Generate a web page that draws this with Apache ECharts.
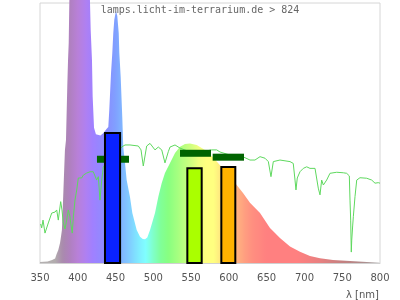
<!DOCTYPE html>
<html><head><meta charset="utf-8">
<script src="https://cdn.jsdelivr.net/npm/echarts@6/dist/echarts.min.js"></script>
<style>html,body{margin:0;padding:0;background:#fff}#c{width:400px;height:300px}</style>
</head><body><div id="c"></div>
<script>
// ---- data ----
const titleText = 'lamps.licht-im-terrarium.de > 824';
const axisName = 'λ [nm]';
const xMin = 350, xMax = 800, xStep = 50;

// lamp spectrum (relative units, 100 = top of plot)
const specNm  = [350,360,366,370,372,374.2,376.5,377.7,379,381,383,384.4,386.1,387.1,388,388.8,392,398,403,408,413,416.2,417.1,418.8,419.7,421.5,424,430,434,438,440.4,441.7,444,445.7,447,448.3,450.5,452.3,454.2,455,456.8,458.9,460.2,462.5,464.7,469.1,472.2,478,482.4,486,489,492,495.6,502.2,506.6,511.1,515.4,522.1,528.7,535.3,541.9,548.5,557.4,568.4,577.2,588,600,610.3,618.7,627.9,641.2,654.4,667.6,680.9,694.1,707.3,720.6,737.8,760.3,782.4,800];
const specVal = [0.4,0.6,1.2,1.7,3.5,5,7.7,10,12.7,28,43.5,47.3,67.8,78,84.6,100,150,200,220,200,150,100,89.6,78,64,52,49.5,49,50,51.5,52.3,58.8,73,80.8,88.5,93.5,97,95,88.5,80.8,71.5,56.2,44.6,38.5,31.9,25.4,19.2,12.7,10.1,9.2,9.1,9.8,12.7,19.2,25.5,30.8,34.6,38.5,42.3,44.7,45.8,46,45.4,43.5,41.2,37.7,33.8,30,26.9,23.2,19.2,13.5,9.6,6.3,4.3,2.7,1.8,1.2,0.8,0.4,0.2];

// reference (sunlight) curve
const solarNm  = [350.9,352.2,354,356.6,358.9,361,365.5,367.6,369.9,372.1,374.2,377.4,379.1,380.8,383.1,385.3,387.5,389.7,390.6,392.7,394.1,396.3,398.6,400.7,402.9,405.2,407.3,411.8,416.2,420.5,422.8,425,427.2,429.4,431.7,433.8,440,450,456,458.1,462.5,469.1,471.4,480.1,483.7,486.7,491.2,495.6,502.2,506.6,511.1,515.4,519.8,522.1,528.7,535.3,548.5,561.8,577.2,583.9,588.2,601.5,619.1,627.9,634.5,641.2,647.8,652.2,655.7,658.8,667.6,680.9,685.2,687.5,688.8,690.5,694.1,698.5,703,707.3,714,716.2,718.3,720.6,722.8,725,729.4,733.8,742.7,751.4,755.9,759.4,760.3,761.2,762,762.6,763.9,764.7,766.9,769.2,773.5,782.4,789,793.4,797.7,800];
const solarVal = [15,13.5,16.5,11.5,10.8,15.4,19.2,19.7,19.6,20.4,16.5,23.6,20.4,15.4,13.1,16.5,20.4,17.8,15.4,11.5,17.7,24.2,28.1,32.7,33.2,32.7,33.8,34.6,35.1,35.1,34.6,31.9,33.2,24.2,31.9,36.9,39.6,42.7,43.8,44.6,45.4,45.4,45.4,45,43.5,37.3,45,46,43.5,44.6,43.5,38.5,42.8,44.6,45.4,44.2,42.7,42.7,43.5,43.5,42.7,41.5,40.8,39.6,39.6,40.9,40.3,39,33.2,39,39.6,39,38.3,31.9,28.1,32.7,35.1,36.4,37,36.4,36.4,35.8,28.8,26.2,31.9,30,31.9,34.5,34.9,34.7,34.5,33.5,24.2,16.5,4.2,8.8,14.6,17.8,25.5,31.9,32.8,32.6,31.9,30.7,30.9,30.7];

// colour bands (bars)
const barStart = [436, 545, 590];
const barEnd   = [456, 564, 608.5];
const barValue = [50, 36.4, 36.9];

// dark green range markers
const markStart = [425.4, 535.3, 578.5];
const markEnd   = [467.8, 576.3, 620];
const markValue = [39.9, 42.2, 40.7];

// ---- styles ----
const barColors = ['#0a22ff', '#aaff00', '#ffb300'];
const specColors = ['#b4b0b0','#b4b0b0','#b2acae','#a98aad','#b080c0','#b880d8','#b080f0','#a080ff','#9488ff','#8890ff','#80a0ff','#80b8ff','#80d0ff','#80eaff','#80ffff','#80ffc8','#80ff98','#88ff80','#a0ff80','#b8ff80','#d0ff80','#f0ff80','#ffff80','#ffff80','#ffe480','#ffc880','#ffb480','#ffa080','#ff9080','#ff8880','#ff8080','#ff8080','#ff8080','#ff8080','#ff8080','#f88080','#f08080','#e88080','#dc8080','#d08080','#c48080','#bc8484','#b48888','#ac9090','#a89898','#a8a0a0'];

const chart = echarts.init(document.getElementById('c'), null, {renderer: 'canvas'});
chart.setOption({
  animation: false,
  title: {
    text: titleText, left: 'center', top: 5, padding: 0,
    textStyle: {fontFamily: 'DejaVu Sans Mono', fontSize: 10, fontWeight: 'normal', color: '#666'}
  },
  grid: {left: 40, right: 20, top: 3, bottom: 37, show: true, borderColor: '#d6d6d6', borderWidth: 1},
  xAxis: {
    type: 'value', min: xMin, max: xMax, interval: xStep,
    axisLine: {show: true, lineStyle: {color: '#d0d0d0'}},
    axisTick: {show: false}, splitLine: {show: false},
    axisLabel: {color: '#555', fontSize: 10, fontFamily: 'DejaVu Sans', margin: 10}
  },
  yAxis: {type: 'value', min: 0, max: 100, show: false, splitLine: {show: false}},
  visualMap: {
    type: 'continuous', show: false, seriesIndex: 0, dimension: 0,
    min: xMin, max: xMax, inRange: {color: specColors}
  },
  graphic: [{
    type: 'text', right: 21, top: 290,
    style: {text: axisName, fill: '#555', font: '10px "DejaVu Sans"'}
  }],
  series: [
    {
      type: 'line', z: 1, data: specNm.map((n, i) => [n, specVal[i]]),
      symbol: 'none', clip: false,
      lineStyle: {width: 0, opacity: 0},
      areaStyle: {opacity: 1}
    },
    {
      type: 'line', z: 2, data: solarNm.map((n, i) => [n, solarVal[i]]),
      symbol: 'none', lineStyle: {width: 1, color: '#5ed85e'}, itemStyle: {color: '#5ed85e'}
    },
    {
      type: 'custom', z: 3,
      data: markStart.map((s, i) => [s, markEnd[i], markValue[i]]),
      encode: {x: [0, 1], y: 2},
      renderItem: function (params, api) {
        const a = api.coord([api.value(0), api.value(2)]);
        const b = api.coord([api.value(1), api.value(2)]);
        return {type: 'rect', shape: {x: a[0], y: a[1] - 3.5, width: b[0] - a[0], height: 7}, style: {fill: '#006400'}};
      }
    },
    {
      type: 'custom', z: 4,
      data: barStart.map((s, i) => [s, barEnd[i], barValue[i]]),
      encode: {x: [0, 1], y: 2},
      renderItem: function (params, api) {
        const p0 = api.coord([api.value(0), api.value(2)]);
        const p1 = api.coord([api.value(1), 0]);
        return {type: 'rect', shape: {x: p0[0], y: p0[1], width: p1[0] - p0[0], height: p1[1] - p0[1]},
          style: {fill: barColors[params.dataIndex], stroke: '#000', lineWidth: 2}};
      }
    }
  ]
});
</script>
</body></html>
